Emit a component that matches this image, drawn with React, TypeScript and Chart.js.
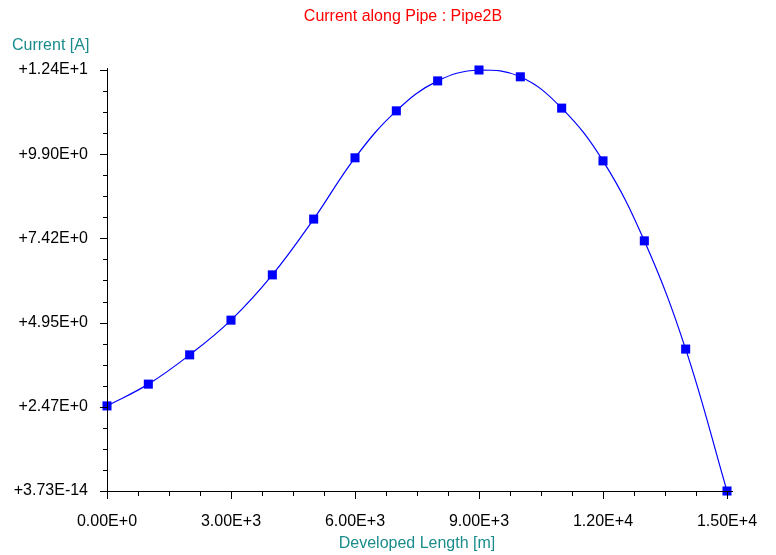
import React, { useEffect, useRef } from "react";
import { Chart, registerables } from "chart.js";

Chart.register(...registerables);

const lengths = [0, 1000, 2000, 3000, 4000, 5000, 6000, 7000, 8000, 9000, 10000, 11000, 12000, 13000, 14000, 15000];
const currents = [2.5, 3.14, 4.0, 5.02, 6.35, 7.99, 9.79, 11.17, 12.05, 12.37, 12.17, 11.25, 9.7, 7.35, 4.17, 0];

const yTickValues = [0, 2.474, 4.948, 7.422, 9.896, 12.37];
const yTickLabels = ["+3.73E-14", "+2.47E+0", "+4.95E+0", "+7.42E+0", "+9.90E+0", "+1.24E+1"];
const xTickValues = [0, 3000, 6000, 9000, 12000, 15000];
const xTickLabels = ["0.00E+0", "3.00E+3", "6.00E+3", "9.00E+3", "1.20E+4", "1.50E+4"];

const chartTitle = "Current along Pipe : Pipe2B";
const yTitle = "Current [A]";
const xTitle = "Developed Length [m]";

const FONT = "Arial, 'Liberation Sans', sans-serif";

const decorPlugin = {
  id: "decor",
  afterDraw(chart: any) {
    const ctx = chart.ctx;
    const xs = chart.scales.x;
    const ys = chart.scales.y;
    const area = chart.chartArea;
    ctx.save();
    ctx.strokeStyle = "#000";
    ctx.lineWidth = 1;
    ctx.beginPath();
    ctx.moveTo(area.left + 0.5, area.top - 2);
    ctx.lineTo(area.left + 0.5, area.bottom + 8);
    ctx.moveTo(area.left - 1, area.bottom + 0.5);
    ctx.lineTo(area.right + 6, area.bottom + 0.5);
    ctx.stroke();
    ctx.beginPath();
    for (let i = 0; i < yTickValues.length; i++) {
      const py = Math.round(ys.getPixelForValue(yTickValues[i])) + 0.5;
      ctx.moveTo(area.left - 7, py);
      ctx.lineTo(area.left, py);
      if (i < yTickValues.length - 1) {
        for (let k = 1; k < 4; k++) {
          const v = yTickValues[i] + ((yTickValues[i + 1] - yTickValues[i]) * k) / 4;
          const pm = Math.round(ys.getPixelForValue(v)) + 0.5;
          ctx.moveTo(area.left - 4, pm);
          ctx.lineTo(area.left, pm);
        }
      }
    }
    for (let i = 0; i < xTickValues.length; i++) {
      const px = Math.round(xs.getPixelForValue(xTickValues[i])) + 0.5;
      ctx.moveTo(px, area.bottom);
      ctx.lineTo(px, area.bottom + 8);
      if (i < xTickValues.length - 1) {
        for (let k = 1; k < 4; k++) {
          const v = xTickValues[i] + ((xTickValues[i + 1] - xTickValues[i]) * k) / 4;
          const pm = Math.round(xs.getPixelForValue(v)) + 0.5;
          ctx.moveTo(pm, area.bottom);
          ctx.lineTo(pm, area.bottom + 5);
        }
      }
    }
    ctx.stroke();
    ctx.font = "16px " + FONT;
    ctx.textBaseline = "middle";
    ctx.fillStyle = "#ff0000";
    ctx.textAlign = "center";
    ctx.fillText(chartTitle, 403, 17);
    ctx.fillStyle = "#1a8c8c";
    ctx.textAlign = "left";
    ctx.fillText(yTitle, 12, 46);
    ctx.textAlign = "center";
    ctx.fillText(xTitle, (area.left + area.right) / 2, 544);
    ctx.restore();
  },
};

export default function App() {
  const ref = useRef<HTMLCanvasElement | null>(null);
  useEffect(() => {
    if (!ref.current) return;
    const chart = new Chart(ref.current, {
      type: "line",
      data: {
        datasets: [
          {
            data: lengths.map((x, i) => ({ x, y: currents[i] })),
            borderColor: "#0000ff",
            backgroundColor: "#0000ff",
            borderWidth: 1.2,
            tension: 0.4,
            pointStyle: "rect",
            pointRadius: 6.4,
            pointBorderWidth: 0,
            pointHoverRadius: 6.4,
            clip: false as any,
          },
        ],
      },
      options: {
        animation: false,
        responsive: false,
        maintainAspectRatio: false,
        layout: { padding: { left: 0, top: 70, right: 49, bottom: 0 } },
        plugins: { legend: { display: false }, title: { display: false }, tooltip: { enabled: false } },
        scales: {
          x: {
            type: "linear",
            min: 0,
            max: 15000,
            grid: { display: false },
            border: { display: false },
            afterBuildTicks: (s: any) => {
              s.ticks = xTickValues.map((v) => ({ value: v }));
            },
            afterFit: (s: any) => {
              s.height = 64;
            },
            ticks: {
              padding: 13,
              maxRotation: 0,
              autoSkip: false,
              color: "#000",
              font: { family: FONT, size: 16 },
              callback: (_v: any, i: number) => xTickLabels[i],
            },
          },
          y: {
            type: "linear",
            min: 0,
            max: 12.37,
            grid: { display: false },
            border: { display: false },
            afterBuildTicks: (s: any) => {
              s.ticks = yTickValues.map((v) => ({ value: v }));
            },
            afterFit: (s: any) => {
              s.width = 107;
            },
            ticks: {
              padding: 11,
              autoSkip: false,
              color: "#000",
              font: { family: FONT, size: 16 },
              callback: (_v: any, i: number) => yTickLabels[i],
            },
          },
        },
      },
      plugins: [decorPlugin],
    });
    return () => chart.destroy();
  }, []);
  return (
    <div style={{ position: "fixed", left: 0, top: 0, width: 776, height: 555, background: "#fff" }}>
      <canvas ref={ref} width={776} height={555} style={{ display: "block", width: 776, height: 555 }} />
    </div>
  );
}
